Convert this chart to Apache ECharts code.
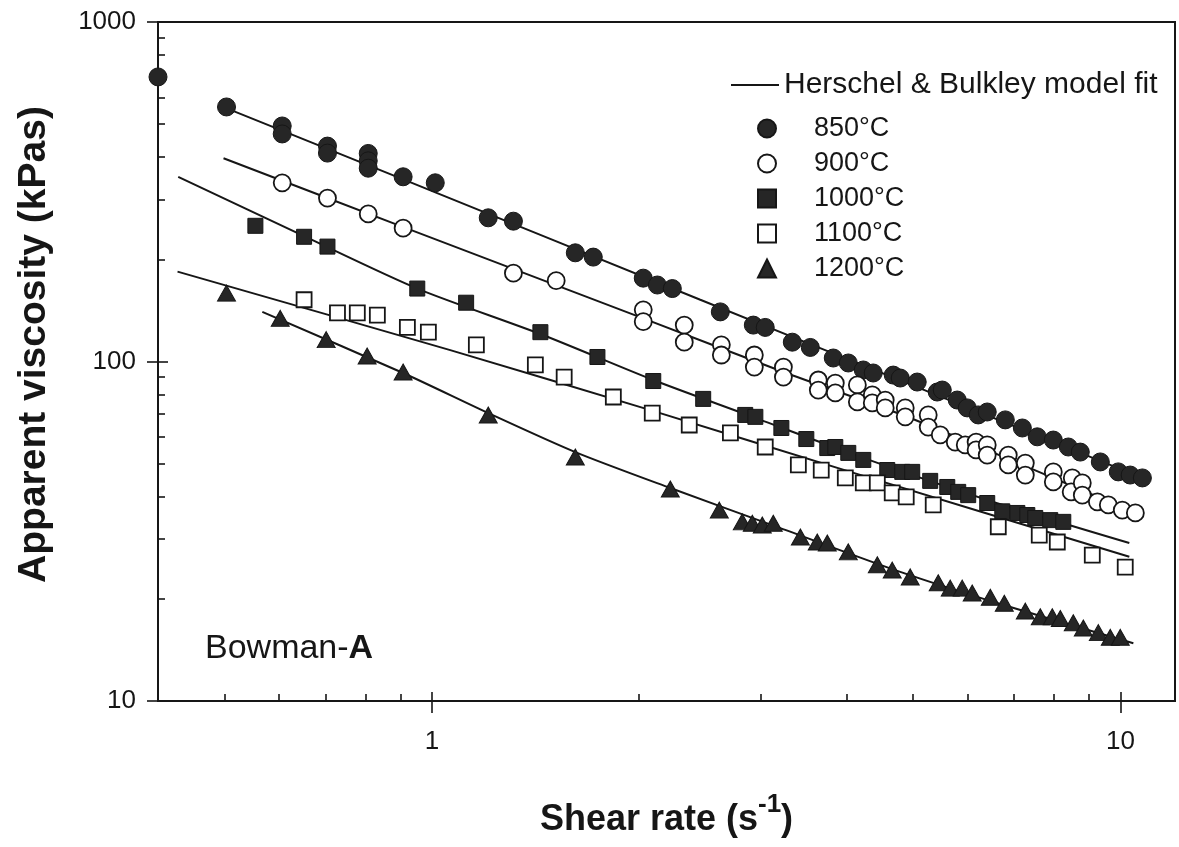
<!DOCTYPE html>
<html>
<head>
<meta charset="utf-8">
<title>Apparent viscosity vs shear rate</title>
<script src="https://cdn.jsdelivr.net/npm/echarts@6/dist/echarts.min.js"></script>
<style>
  html, body { margin: 0; padding: 0; background: #ffffff; }
  #chart { width: 1179px; height: 847px; }
</style>
</head>
<body>
<div id="chart"></div>
<script>
// ---- measured points (shear rate in 1/s, apparent viscosity in kPas) ----
const rate850 = [0.40, 0.503, 0.606, 0.606, 0.705, 0.705, 0.808, 0.808, 0.808, 0.908, 1.011, 1.207, 1.313, 1.615, 1.715,
  2.027, 2.125, 2.234, 2.623, 2.929, 3.048, 3.337, 3.544, 3.827, 4.024, 4.231, 4.374, 4.677, 4.788, 5.067, 5.418, 5.510,
  5.793, 5.990, 6.214, 6.404, 6.803, 7.202, 7.571, 7.988, 8.399, 8.742, 9.348, 9.926, 10.33, 10.76];
const visc850 = [689, 562, 494, 468, 431, 411, 410, 390, 371, 350, 336, 265, 259, 209, 203,
  176, 168, 164, 140, 128, 126, 114, 110, 102.4, 99.0, 94.4, 92.5, 91.2, 89.4, 87.0, 81.3, 82.4,
  77.0, 73.0, 69.6, 71.0, 67.3, 63.7, 60.0, 58.7, 56.0, 54.1, 50.6, 47.3, 46.3, 45.4];

const rate900 = [0.606, 0.705, 0.808, 0.908, 1.313, 1.515, 2.027, 2.027, 2.325, 2.325, 2.632, 2.632, 2.939, 2.939,
  3.239, 3.239, 3.640, 3.640, 3.853, 3.853, 4.148, 4.148, 4.360, 4.360, 4.553, 4.553, 4.868, 4.868, 5.257, 5.257,
  5.473, 5.754, 5.950, 6.17, 6.17, 6.404, 6.404, 6.871, 6.871, 7.274, 7.274, 7.988, 7.988, 8.511, 8.48, 8.801, 8.801,
  9.256, 9.601, 10.06, 10.51];
const visc900 = [336, 303, 272, 247, 182, 173, 142, 131, 128, 114, 112, 104.5, 104.5, 96.3,
  96.3, 90.0, 88.2, 82.4, 86.4, 80.8, 85.3, 76.0, 79.7, 75.5, 77.0, 73.0, 73.0, 68.7, 69.6, 64.1,
  60.8, 57.9, 56.8, 57.9, 54.9, 56.8, 53.0, 53.0, 49.6, 50.2, 46.3, 47.3, 44.2, 45.4, 41.3, 43.9, 40.4,
  38.6, 37.8, 36.5, 35.8];

const rate1000 = [0.554, 0.652, 0.705, 0.952, 1.121, 1.437, 1.739, 2.096, 2.477, 2.851, 2.949, 3.217, 3.497, 3.751,
  3.853, 4.024, 4.231, 4.584, 4.820, 4.983, 5.292, 5.603, 5.812, 6.009, 6.404, 6.735, 7.083, 7.323, 7.52, 7.907, 8.259];
const visc1000 = [251, 233, 218, 164, 149, 122, 103.1, 87.6, 77.6, 69.6, 68.7, 63.7, 59.1, 55.6,
  56.0, 53.8, 51.3, 47.9, 47.3, 47.3, 44.5, 42.7, 41.3, 40.4, 38.3, 36.2, 35.8, 35.3, 34.6, 34.1, 33.7];

const rate1100 = [0.652, 0.729, 0.779, 0.833, 0.921, 0.988, 1.160, 1.413, 1.556, 1.834, 2.089, 2.364, 2.713, 3.048,
  3.405, 3.676, 3.984, 4.231, 4.434, 4.661, 4.884, 5.346, 6.645, 7.621, 8.095, 9.100, 10.16];
const visc1100 = [152, 139, 139, 137, 126, 122, 112, 97.7, 90.0, 78.6, 70.5, 65.0, 61.6, 56.0,
  49.6, 47.9, 45.4, 43.9, 43.9, 41.0, 39.9, 37.8, 32.6, 30.8, 29.4, 26.9, 24.8];

const rate1200 = [0.503, 0.602, 0.702, 0.805, 0.908, 1.207, 1.615, 2.219, 2.614, 2.823, 2.919, 3.018, 3.131, 3.428,
  3.627, 3.751, 4.024, 4.434, 4.661, 4.950, 5.436, 5.659, 5.890, 6.090, 6.470, 6.780, 7.274, 7.647, 7.960, 8.177,
  8.539, 8.831, 9.286, 9.665, 9.993];
const visc1200 = [159, 134, 116, 103.8, 93.1, 69.6, 52.3, 42.1, 36.5, 33.7, 33.4, 33.0, 33.4, 30.4,
  29.4, 29.2, 27.5, 25.2, 24.3, 23.2, 22.3, 21.5, 21.5, 20.8, 20.2, 19.4, 18.4, 17.7, 17.7, 17.5,
  17.0, 16.4, 15.9, 15.4, 15.4];

// ---- Herschel & Bulkley model curves ----
const fitRate850 = [0.493, 0.899, 2.453, 4.788, 10.94];
const fitVisc850 = [566, 347, 152, 88.0, 44.8];
const fitRate900 = [0.498, 0.899, 2.027, 3.239, 4.868, 7.274, 10.69];
const fitVisc900 = [397, 251, 134, 93.1, 69.1, 49.2, 35.3];
const fitRate1000 = [0.428, 0.652, 0.952, 1.437, 2.096, 2.851, 4.231, 6.404, 10.30];
const fitVisc1000 = [350, 234, 164, 120.5, 88.2, 70.0, 52.0, 39.1, 29.2];
const fitRate1100 = [0.427, 1.063, 2.076, 4.051, 10.30];
const fitVisc1100 = [184, 108, 71.9, 47.3, 26.6];
const fitRate1200 = [0.567, 0.908, 1.207, 1.615, 2.219, 3.206, 4.788, 6.69, 10.44];
const fitVisc1200 = [140, 92.5, 70.5, 54.1, 42.4, 32.3, 24.0, 19.3, 14.8];

// ---- names and axis ticks ----
const seriesNames = ['850°C', '900°C', '1000°C', '1100°C', '1200°C'];
const fitName = 'Herschel & Bulkley model fit';
const xRange = [0.4, 12];
const yRange = [10, 1000];
const xMajorTicks = [1, 10];
const xMinorTicks = [0.5, 0.6, 0.7, 0.8, 0.9, 2, 3, 4, 5, 6, 7, 8, 9];
const yMajorTicks = [10, 100, 1000];
const yMinorTicks = [20, 30, 40, 50, 60, 70, 80, 90, 200, 300, 400, 500, 600, 700, 800, 900];

// ---- styling ----
const FONT = '"Liberation Sans", Arial, Helvetica, sans-serif';
const INK = '#161616';
const DARK = '#262626';
const tickLine = { color: INK, width: 1.6 };

function zip(xs, ys) { return xs.map((x, i) => [x, ys[i]]); }
function logLabel(v) { return String(Math.round(v * 1000) / 1000); }

const chart = echarts.init(document.getElementById('chart'), null, { renderer: 'canvas' });

const baseX = { type: 'log', logBase: 10, min: xRange[0], max: xRange[1], gridIndex: 0, position: 'bottom',
  splitLine: { show: false }, minorTick: { show: false }, minorSplitLine: { show: false } };
const baseY = { type: 'log', logBase: 10, min: yRange[0], max: yRange[1], gridIndex: 0, position: 'left',
  splitLine: { show: false }, minorTick: { show: false }, minorSplitLine: { show: false } };

const markerStyles = [
  { symbol: 'circle', symbolSize: 18, itemStyle: { color: DARK, borderColor: INK, borderWidth: 1, opacity: 1 } },
  { symbol: 'circle', symbolSize: 17, itemStyle: { color: '#ffffff', borderColor: INK, borderWidth: 1.8, opacity: 1 } },
  { symbol: 'rect', symbolSize: 15, itemStyle: { color: DARK, borderColor: INK, borderWidth: 1, opacity: 1 } },
  { symbol: 'rect', symbolSize: 15, itemStyle: { color: '#ffffff', borderColor: INK, borderWidth: 1.8, opacity: 1 } },
  { symbol: 'triangle', symbolSize: [18, 16], itemStyle: { color: DARK, borderColor: INK, borderWidth: 1, opacity: 1 } }
];
const pointSets = [
  zip(rate850, visc850), zip(rate900, visc900), zip(rate1000, visc1000),
  zip(rate1100, visc1100), zip(rate1200, visc1200)
];
const fitSets = [
  zip(fitRate850, fitVisc850), zip(fitRate900, fitVisc900), zip(fitRate1000, fitVisc1000),
  zip(fitRate1100, fitVisc1100), zip(fitRate1200, fitVisc1200)
];

const series = [];
fitSets.forEach(d => series.push({
  name: fitName, type: 'line', data: d, symbol: 'none', smooth: 0.25, clip: false, z: 2,
  itemStyle: { color: INK }, lineStyle: { color: INK, width: 2 }, emphasis: { disabled: true }
}));
pointSets.forEach((d, i) => series.push(Object.assign({
  name: seriesNames[i], type: 'scatter', data: d, clip: false, z: 3, emphasis: { disabled: true }
}, markerStyles[i])));

chart.setOption({
  animation: false,
  backgroundColor: '#ffffff',
  textStyle: { fontFamily: FONT, color: INK },
  grid: { left: 158, right: 4, top: 22, bottom: 146, show: true, borderColor: INK, borderWidth: 2,
    backgroundColor: 'transparent', containLabel: false, outerBoundsMode: 'none' },
  xAxis: [
    Object.assign({}, baseX, {
      axisLine: { show: true, lineStyle: { color: INK, width: 2 } },
      axisTick: { show: true, inside: true, length: 7, lineStyle: tickLine, customValues: xMinorTicks },
      axisLabel: { show: true, customValues: xMajorTicks, margin: 28, color: INK, fontFamily: FONT, fontSize: 26,
        formatter: logLabel },
      name: '{m|Shear rate (s}{s|-1}{m|)}',
      nameLocation: 'middle', nameGap: 91, nameMoveOverlap: false,
      nameTextStyle: {
        rich: {
          m: { fontFamily: FONT, fontSize: 36, fontWeight: 'bold', color: INK, lineHeight: 46, verticalAlign: 'bottom' },
          s: { fontFamily: FONT, fontSize: 26, fontWeight: 'bold', color: INK, verticalAlign: 'top' }
        }
      }
    }),
    Object.assign({}, baseX, {
      axisLine: { show: false },
      axisTick: { show: true, inside: true, length: 9, lineStyle: tickLine, customValues: xMajorTicks },
      axisLabel: { show: false }
    }),
    Object.assign({}, baseX, {
      axisLine: { show: false },
      axisTick: { show: true, inside: false, length: 12, lineStyle: tickLine, customValues: xMajorTicks },
      axisLabel: { show: false }
    })
  ],
  yAxis: [
    Object.assign({}, baseY, {
      axisLine: { show: true, lineStyle: { color: INK, width: 2 } },
      axisTick: { show: true, inside: true, length: 7, lineStyle: tickLine, customValues: yMinorTicks },
      axisLabel: { show: true, customValues: yMajorTicks, margin: 22, color: INK, fontFamily: FONT, fontSize: 26,
        formatter: logLabel },
      name: 'Apparent viscosity (kPas)',
      nameLocation: 'middle', nameRotate: 90, nameGap: 104, nameMoveOverlap: false,
      nameTextStyle: { fontFamily: FONT, fontSize: 39, fontWeight: 'bold', color: INK, padding: [0, 0, 0, 34] }
    }),
    Object.assign({}, baseY, {
      axisLine: { show: false },
      axisTick: { show: true, inside: true, length: 10, lineStyle: tickLine, customValues: [100] },
      axisLabel: { show: false }
    }),
    Object.assign({}, baseY, {
      axisLine: { show: false },
      axisTick: { show: true, inside: false, length: 11, lineStyle: tickLine, customValues: yMajorTicks },
      axisLabel: { show: false }
    })
  ],
  legend: [
    {
      data: [{ name: fitName, icon: 'rect' }], left: 731, top: 70, padding: 0, itemWidth: 48, itemHeight: 2,
      selectedMode: false, textStyle: { fontFamily: FONT, fontSize: 30, color: INK }
    },
    {
      data: seriesNames, orient: 'vertical', left: 757, top: 115, padding: 0,
      itemWidth: 18, itemHeight: 18, itemGap: 8, selectedMode: false,
      itemStyle: { opacity: 1 },
      textStyle: { fontFamily: FONT, fontSize: 27, color: INK, padding: [0, 0, 0, 33] }
    }
  ],
  graphic: [
    {
      type: 'text', left: 205, top: 632, silent: true,
      style: {
        text: '{r|Bowman-}{b|A}',
        rich: {
          r: { fontFamily: FONT, fontSize: 34, fill: INK },
          b: { fontFamily: FONT, fontSize: 34, fontWeight: 'bold', fill: INK }
        }
      }
    }
  ],
  series: series
});
</script>
</body>
</html>
